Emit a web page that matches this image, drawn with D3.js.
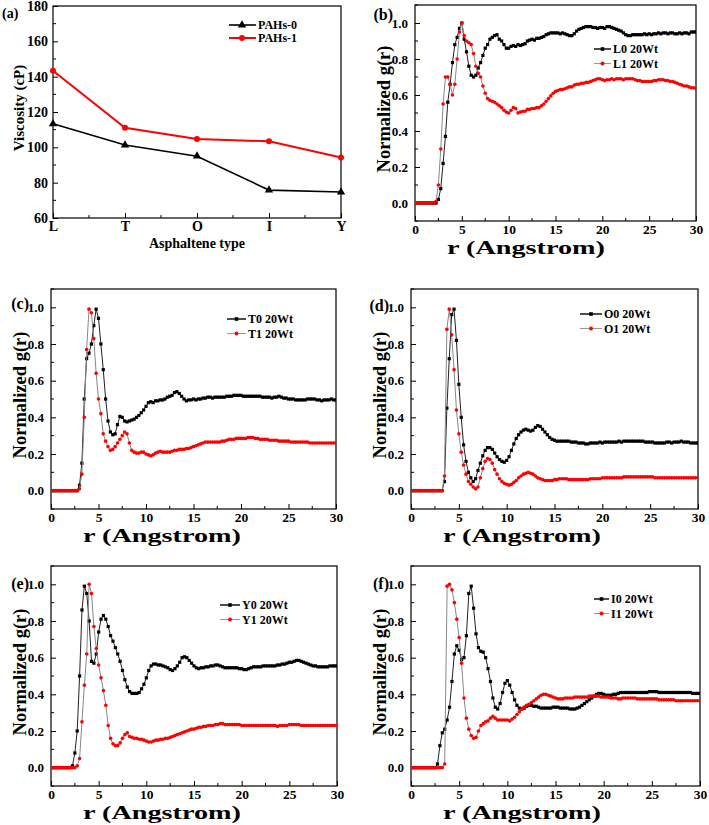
<!DOCTYPE html>
<html><head><meta charset="utf-8">
<script src="https://cdn.jsdelivr.net/npm/d3@7"></script>
<style>
body{margin:0;background:#fff}
svg text{font-family:"Liberation Serif","Times New Roman",serif;font-weight:bold;fill:#000}
</style>
</head><body>
<svg id="c" width="709" height="825"></svg>
<script>
// ---------- panel (a) data ----------
const asphaltene = ["L","T","O","I","Y"];
const pahs0 = [113.3,101.3,95.0,75.8,74.7];
const pahs1 = [143.3,111.1,104.7,103.4,94.3];
const viscTicks = [60,80,100,120,140,160,180];
// ---------- g(r) panels ----------
const rTicks = [0,5,10,15,20,25,30];
const gTicks = [0,0.2,0.4,0.6,0.8,1.0];
const rGrid = d3.range(121).map(i => i*0.25); // r sampling (Angstrom)

const L0 = [0,0,0,0,0,0,0,0,0,0,
0.02,0.08,0.22,0.37,0.56,0.66,0.78,0.88,0.92,0.97,1.0,0.91,0.84,0.76,0.71,0.70,0.71,0.75,0.78,0.82,0.86,0.88,0.91,0.92,0.93,0.935,0.91,0.90,0.88,0.86,
0.86,0.87,0.875,0.87,0.88,0.875,0.88,0.885,0.9,0.905,0.91,0.905,0.915,0.915,0.92,0.925,0.935,0.94,0.945,0.945,
0.945,0.945,0.94,0.945,0.94,0.935,0.93,0.93,0.94,0.955,0.965,0.97,0.975,0.98,0.98,0.98,0.975,0.975,0.97,0.975,
0.975,0.97,0.98,0.98,0.975,0.97,0.965,0.96,0.955,0.945,0.935,0.93,0.93,0.935,0.935,0.935,0.935,0.935,0.94,0.935,
0.94,0.935,0.94,0.94,0.945,0.94,0.945,0.945,0.94,0.945,0.945,0.94,0.94,0.945,0.94,0.945,0.945,0.94,0.95,0.95,0.95];
const L1 = [0,0,0,0,0,0,0,0,0,0.01,
0.1,0.3,0.55,0.7,0.7,0.66,0.6,0.66,0.8,0.95,1.0,0.93,0.9,0.89,0.88,0.83,0.76,0.72,0.7,0.65,0.61,0.58,0.57,0.565,0.56,0.55,0.54,0.53,0.515,0.505,
0.5,0.515,0.53,0.525,0.5,0.505,0.51,0.51,0.52,0.52,0.525,0.525,0.53,0.53,0.54,0.55,0.565,0.58,0.595,0.61,
0.62,0.625,0.63,0.63,0.635,0.64,0.645,0.645,0.655,0.66,0.66,0.665,0.665,0.67,0.67,0.675,0.68,0.685,0.69,0.69,
0.685,0.68,0.685,0.685,0.69,0.685,0.69,0.69,0.69,0.685,0.69,0.69,0.69,0.69,0.685,0.68,0.68,0.675,0.675,0.675,
0.675,0.675,0.68,0.68,0.685,0.685,0.685,0.68,0.68,0.675,0.675,0.67,0.665,0.66,0.655,0.65,0.65,0.645,0.64,0.64,0.635];
const T0 = [0,0,0,0,0,0,0,0,0,0,0,0,
0.03,0.15,0.5,0.72,0.75,0.8,0.9,0.99,0.94,0.8,0.66,0.5,0.38,0.32,0.305,0.31,0.36,0.405,0.4,0.38,0.375,0.38,0.385,0.39,0.4,0.41,0.425,0.44,
0.46,0.48,0.485,0.48,0.49,0.49,0.495,0.495,0.5,0.51,0.515,0.52,0.535,0.54,0.53,0.515,0.5,0.49,0.495,0.495,
0.5,0.495,0.5,0.5,0.505,0.505,0.51,0.51,0.505,0.51,0.51,0.51,0.51,0.51,0.515,0.515,0.515,0.52,0.52,0.52,
0.52,0.515,0.515,0.515,0.515,0.515,0.515,0.515,0.515,0.51,0.51,0.51,0.51,0.505,0.51,0.51,0.515,0.51,0.505,0.505,
0.5,0.5,0.5,0.495,0.495,0.495,0.495,0.495,0.5,0.5,0.5,0.5,0.495,0.495,0.49,0.495,0.495,0.495,0.5,0.495,0.495];
const T1 = [0,0,0,0,0,0,0,0,0,0,0,0,
0.01,0.09,0.4,0.77,0.99,0.97,0.83,0.64,0.5,0.42,0.31,0.27,0.24,0.22,0.225,0.24,0.26,0.28,0.3,0.32,0.31,0.26,0.22,0.21,0.205,0.205,0.21,0.21,
0.2,0.195,0.19,0.195,0.205,0.21,0.215,0.21,0.21,0.21,0.21,0.215,0.22,0.22,0.225,0.225,0.225,0.23,0.23,0.235,
0.24,0.245,0.25,0.255,0.26,0.265,0.265,0.265,0.265,0.265,0.265,0.265,0.27,0.27,0.275,0.28,0.28,0.28,0.285,0.285,
0.285,0.285,0.285,0.29,0.29,0.29,0.285,0.285,0.28,0.28,0.28,0.28,0.275,0.275,0.275,0.275,0.27,0.27,0.27,0.27,
0.27,0.265,0.265,0.265,0.265,0.265,0.265,0.265,0.265,0.26,0.26,0.26,0.26,0.26,0.26,0.26,0.26,0.26,0.26,0.26,0.26];
const O0 = [0,0,0,0,0,0,0,0,0,0,0,0,0,0,
0.05,0.45,0.72,0.96,0.99,0.82,0.58,0.4,0.25,0.16,0.1,0.07,0.05,0.065,0.11,0.15,0.19,0.22,0.235,0.235,0.225,0.205,0.185,0.17,0.16,0.155,
0.165,0.185,0.22,0.255,0.285,0.305,0.32,0.33,0.335,0.33,0.325,0.33,0.345,0.355,0.35,0.335,0.32,0.305,0.29,0.28,
0.275,0.27,0.27,0.27,0.27,0.27,0.27,0.265,0.265,0.265,0.26,0.26,0.26,0.255,0.255,0.26,0.26,0.26,0.26,0.265,
0.26,0.265,0.265,0.265,0.265,0.265,0.265,0.27,0.265,0.27,0.27,0.27,0.27,0.27,0.27,0.27,0.27,0.27,0.265,0.265,
0.265,0.265,0.26,0.26,0.26,0.26,0.26,0.265,0.265,0.26,0.265,0.265,0.265,0.27,0.265,0.265,0.265,0.26,0.26,0.26,0.26];
const O1 = [0,0,0,0,0,0,0,0,0,0,0,0,0,0,
0.08,0.88,0.99,0.85,0.66,0.44,0.31,0.21,0.14,0.09,0.05,0.035,0.02,0.01,0.02,0.07,0.12,0.16,0.175,0.17,0.15,0.115,0.09,0.065,0.05,0.04,
0.035,0.03,0.035,0.045,0.055,0.07,0.08,0.09,0.095,0.1,0.095,0.09,0.08,0.07,0.065,0.06,0.055,0.055,0.055,0.055,
0.06,0.06,0.065,0.065,0.065,0.065,0.06,0.06,0.06,0.06,0.06,0.06,0.06,0.06,0.06,0.065,0.065,0.065,0.065,0.065,
0.07,0.07,0.07,0.07,0.07,0.07,0.07,0.07,0.07,0.075,0.075,0.075,0.075,0.075,0.075,0.075,0.075,0.075,0.075,0.075,
0.075,0.075,0.07,0.07,0.07,0.07,0.07,0.07,0.07,0.07,0.07,0.07,0.07,0.07,0.07,0.07,0.07,0.07,0.07,0.07,0.07];
const Y0 = [0,0,0,0,0,0,0,0,
0,0.01,0.08,0.2,0.5,0.86,0.99,0.95,0.8,0.58,0.57,0.62,0.74,0.81,0.83,0.81,0.77,0.72,0.69,0.655,0.62,0.58,0.53,0.48,0.44,0.415,0.405,0.405,0.405,0.41,0.43,0.455,
0.49,0.53,0.555,0.565,0.565,0.56,0.56,0.555,0.55,0.545,0.535,0.53,0.54,0.555,0.575,0.6,0.605,0.6,0.585,0.57,
0.555,0.545,0.54,0.545,0.545,0.55,0.55,0.555,0.555,0.56,0.56,0.555,0.55,0.545,0.545,0.545,0.545,0.545,0.545,0.54,
0.54,0.535,0.535,0.54,0.545,0.55,0.55,0.55,0.55,0.555,0.555,0.555,0.555,0.555,0.555,0.56,0.56,0.565,0.565,0.57,
0.575,0.575,0.58,0.585,0.585,0.58,0.575,0.57,0.565,0.56,0.555,0.555,0.55,0.55,0.55,0.55,0.55,0.555,0.555,0.555,0.555];
const Y1 = [0,0,0,0,0,0,0,0,0,0,0,
0.01,0.05,0.25,0.45,0.62,1.0,0.95,0.77,0.65,0.56,0.49,0.42,0.34,0.23,0.16,0.13,0.12,0.12,0.135,0.16,0.18,0.19,0.17,0.165,0.16,0.16,0.155,0.155,0.15,
0.145,0.14,0.14,0.145,0.15,0.15,0.155,0.155,0.16,0.16,0.165,0.17,0.175,0.18,0.185,0.19,0.195,0.2,0.205,0.21,
0.21,0.215,0.22,0.22,0.225,0.225,0.23,0.23,0.23,0.235,0.235,0.24,0.24,0.235,0.235,0.235,0.235,0.235,0.235,0.235,
0.23,0.23,0.23,0.23,0.23,0.23,0.23,0.23,0.23,0.23,0.23,0.23,0.23,0.23,0.23,0.225,0.23,0.23,0.23,0.23,
0.235,0.235,0.235,0.235,0.235,0.23,0.23,0.23,0.23,0.23,0.23,0.23,0.23,0.23,0.23,0.23,0.23,0.23,0.23,0.23,0.23];
const I0 = [0,0,0,0,0,0,0,0,0,0,0,
0.02,0.12,0.19,0.21,0.26,0.33,0.47,0.62,0.665,0.64,0.59,0.6,0.72,0.95,0.99,0.87,0.73,0.655,0.635,0.63,0.6,0.54,0.47,0.38,0.33,0.32,0.35,0.41,0.46,
0.475,0.45,0.41,0.37,0.34,0.325,0.32,0.325,0.335,0.34,0.34,0.335,0.335,0.33,0.325,0.325,0.325,0.325,0.325,0.33,
0.33,0.33,0.325,0.325,0.325,0.325,0.32,0.32,0.32,0.325,0.33,0.34,0.35,0.36,0.37,0.38,0.39,0.4,0.405,0.405,
0.4,0.395,0.395,0.395,0.4,0.4,0.405,0.41,0.41,0.41,0.41,0.41,0.41,0.41,0.41,0.41,0.41,0.41,0.41,0.415,
0.415,0.415,0.415,0.41,0.41,0.41,0.41,0.41,0.41,0.41,0.41,0.41,0.41,0.41,0.41,0.41,0.41,0.405,0.405,0.405,0.405];
const I1 = [0,0,0,0,0,0,0,0,0,0,0,0,0,0,
0.02,0.99,1.0,0.97,0.9,0.81,0.71,0.57,0.38,0.27,0.21,0.175,0.16,0.165,0.2,0.23,0.24,0.25,0.255,0.27,0.28,0.27,0.26,0.26,0.26,0.26,
0.26,0.255,0.265,0.275,0.29,0.305,0.32,0.33,0.34,0.345,0.355,0.365,0.375,0.385,0.395,0.4,0.4,0.395,0.39,0.385,
0.38,0.375,0.375,0.375,0.38,0.38,0.38,0.38,0.385,0.385,0.385,0.385,0.385,0.385,0.39,0.39,0.39,0.39,0.39,0.385,
0.385,0.385,0.385,0.38,0.38,0.38,0.375,0.375,0.38,0.38,0.38,0.38,0.38,0.38,0.375,0.375,0.375,0.375,0.375,0.375,
0.375,0.375,0.375,0.37,0.37,0.37,0.37,0.37,0.37,0.37,0.365,0.365,0.365,0.365,0.365,0.365,0.365,0.365,0.365,0.365,0.365];

const svg = d3.select("#c");
const FONT = '"Liberation Serif","Times New Roman",serif';

// ================= panel (a) =================
(function(){
  const x0=53,x1=341,y0=6,y1=218;
  const x = d3.scalePoint().domain(asphaltene).range([x0,x1]).padding(0);
  const y = d3.scaleLinear().domain([60,180]).range([y1,y0]);
  const g = svg.append("g");
  const yMinor = d3.range(70,180,20);
  g.selectAll(".ymi").data(yMinor).join("line").attr("x1",x0).attr("x2",x0+3).attr("y1",d=>y(d)).attr("y2",d=>y(d)).attr("stroke","#000");
  const xMinor = asphaltene.slice(0,-1).map((d,i)=>(x(d)+x(asphaltene[i+1]))/2);
  g.selectAll(".xmi").data(xMinor).join("line").attr("x1",d=>d).attr("x2",d=>d).attr("y1",y1).attr("y2",y1-3).attr("stroke","#000");
  const ya = g.append("g").attr("transform",`translate(${x0},0)`).call(d3.axisLeft(y).tickValues(viscTicks).tickSize(-5).tickPadding(5));
  const xa = g.append("g").attr("transform",`translate(0,${y1})`).call(d3.axisBottom(x).tickSize(-5).tickPadding(3));
  [ya,xa].forEach(a=>{a.select(".domain").remove();a.selectAll("line").attr("stroke","#000");a.selectAll("text").attr("font-family",FONT).attr("font-weight","bold").attr("font-size",14);});
  g.append("rect").attr("x",x0).attr("y",y0).attr("width",x1-x0).attr("height",y1-y0).attr("fill","none").attr("stroke","#000").attr("stroke-width",1.2);
  const line = d3.line().x((d,i)=>x(asphaltene[i])).y(d=>y(d));
  g.append("path").datum(pahs0).attr("d",line).attr("fill","none").attr("stroke","#000").attr("stroke-width",1.6);
  g.append("path").datum(pahs1).attr("d",line).attr("fill","none").attr("stroke","#ff0000").attr("stroke-width",2);
  const tri = d3.symbol().type(d3.symbolTriangle).size(30);
  g.selectAll(".m0").data(pahs0).join("path").attr("d",tri).attr("transform",(d,i)=>`translate(${x(asphaltene[i])},${y(d)})`).attr("fill","#000");
  g.selectAll(".m1").data(pahs1).join("circle").attr("cx",(d,i)=>x(asphaltene[i])).attr("cy",d=>y(d)).attr("r",3).attr("fill","#ff0000");
  // legend
  g.append("line").attr("x1",229).attr("x2",256).attr("y1",25).attr("y2",25).attr("stroke","#000").attr("stroke-width",1.6);
  g.append("path").attr("d",tri).attr("transform","translate(242,25)").attr("fill","#000");
  g.append("text").attr("x",258).attr("y",29).attr("font-size",12).text("PAHs-0");
  g.append("line").attr("x1",229).attr("x2",256).attr("y1",38).attr("y2",38).attr("stroke","#ff0000").attr("stroke-width",2);
  g.append("circle").attr("cx",242).attr("cy",38).attr("r",3).attr("fill","#ff0000");
  g.append("text").attr("x",258).attr("y",42).attr("font-size",12).text("PAHs-1");
  g.append("text").attr("x",2).attr("y",18).attr("font-size",14).text("(a)");
  g.append("text").attr("transform",`translate(${x0-29},${(y0+y1)/2-4}) rotate(-90)`).attr("text-anchor","middle").attr("font-size",15).text("Viscosity (cP)");
  g.append("text").attr("x",(x0+x1)/2).attr("y",y1+30).attr("text-anchor","middle").attr("font-size",14).text("Asphaltene type");
})();

// ================= panels (b)-(f) =================
const panels = [
 {label:"(b)", x0:415, x1:696, y0:5,   y1:221, a:L0, b:L1, names:["L0 20Wt","L1 20Wt"], lx:594, ly:49,  ll:17, lab:-3},
 {label:"(c)", x0:51,  x1:336, y0:289, y1:509, a:T0, b:T1, names:["T0 20Wt","T1 20Wt"], lx:227, ly:319, ll:19, lab:2},
 {label:"(d)", x0:411, x1:698, y0:289, y1:509, a:O0, b:O1, names:["O0 20Wt","O1 20Wt"], lx:580, ly:314, ll:22, lab:4},
 {label:"(e)", x0:51,  x1:337, y0:566, y1:786, a:Y0, b:Y1, names:["Y0 20Wt","Y1 20Wt"], lx:220, ly:605, ll:20, lab:5},
 {label:"(f)", x0:411, x1:700, y0:566, y1:786, a:I0, b:I1, names:["I0 20Wt","I1 20Wt"], lx:594, ly:599, ll:15, lab:5}
];

panels.forEach(p=>{
  const g = svg.append("g");
  const x = d3.scaleLinear().domain([0,30]).range([p.x0,p.x1]);
  const y = d3.scaleLinear().domain([-0.1,1.1]).range([p.y1,p.y0]);
  const cid = "clip"+p.label.replace(/\W/g,"");
  svg.append("clipPath").attr("id",cid).append("rect").attr("x",p.x0).attr("y",p.y0).attr("width",p.x1-p.x0).attr("height",p.y1-p.y0);
  g.selectAll(".xm").data(d3.range(2.5,30,5)).join("line").attr("x1",d=>x(d)).attr("x2",d=>x(d)).attr("y1",p.y1).attr("y2",p.y1-3).attr("stroke","#000");
  g.selectAll(".ym").data(d3.range(-0.1,1.1,0.2)).join("line").attr("x1",p.x0).attr("x2",p.x0+3).attr("y1",d=>y(d)).attr("y2",d=>y(d)).attr("stroke","#000");
  const xa = g.append("g").attr("transform",`translate(0,${p.y1})`).call(d3.axisBottom(x).tickValues(rTicks).tickSize(-5).tickPadding(3).tickFormat(d3.format("d")));
  const ya = g.append("g").attr("transform",`translate(${p.x0},0)`).call(d3.axisLeft(y).tickValues(gTicks).tickSize(-5).tickPadding(7).tickFormat(d3.format(".1f")));
  [xa,ya].forEach(a=>{a.select(".domain").remove();a.selectAll("line").attr("stroke","#000");a.selectAll("text").attr("font-family",FONT).attr("font-weight","bold");});
  xa.selectAll("text").attr("font-size",13.5);
  ya.selectAll("text").attr("font-size",13);
  g.append("rect").attr("x",p.x0).attr("y",p.y0).attr("width",p.x1-p.x0).attr("height",p.y1-p.y0).attr("fill","none").attr("stroke","#000").attr("stroke-width",1.2);

  const line = d3.line().x((d,i)=>x(rGrid[i])).y(d=>y(d));
  const pg = g.append("g").attr("clip-path",`url(#${cid})`);
  pg.append("path").datum(p.a).attr("d",line).attr("fill","none").attr("stroke","#222").attr("stroke-width",1);
  pg.selectAll(".sa").data(p.a).join("rect").attr("x",(d,i)=>x(rGrid[i])-1.6).attr("y",d=>y(d)-1.6).attr("width",3.2).attr("height",3.2).attr("fill","#000");
  pg.append("path").datum(p.b).attr("d",line).attr("fill","none").attr("stroke","#888").attr("stroke-width",1);
  pg.selectAll(".sb").data(p.b).join("circle").attr("cx",(d,i)=>x(rGrid[i])).attr("cy",d=>y(d)).attr("r",1.8).attr("fill","#ff0000");

  const lx=p.lx, ly=p.ly;
  g.append("line").attr("x1",lx).attr("x2",lx+p.ll).attr("y1",ly).attr("y2",ly).attr("stroke","#000").attr("stroke-width",1.4);
  g.append("rect").attr("x",lx+p.ll/2-1.8).attr("y",ly-1.8).attr("width",3.6).attr("height",3.6).attr("fill","#000");
  g.append("text").attr("x",lx+p.ll+2).attr("y",ly+4).attr("font-size",12).text(p.names[0]);
  g.append("line").attr("x1",lx).attr("x2",lx+p.ll).attr("y1",ly+14.5).attr("y2",ly+14.5).attr("stroke","#999").attr("stroke-width",1);
  g.append("circle").attr("cx",lx+p.ll/2).attr("cy",ly+14.5).attr("r",2).attr("fill","#ff0000");
  g.append("text").attr("x",lx+p.ll+2).attr("y",ly+18.5).attr("font-size",12).text(p.names[1]);

  g.append("text").attr("x",p.x0-22).attr("y",y(1.0)+p.lab).attr("text-anchor","end").attr("font-size",16).text(p.label);
  g.append("text").attr("transform",`translate(${p.x0-25},${(p.y0+p.y1)/2-4}) rotate(-90)`).attr("text-anchor","middle").attr("font-size",18.5).text("Normalized g(r)");
  g.append("text").attr("x",p.x0+32).attr("y",p.y1+32.5).attr("font-size",19)
    .attr("textLength",158).attr("lengthAdjust","spacingAndGlyphs").text("r (Angstrom)");
});
</script>
</body></html>
